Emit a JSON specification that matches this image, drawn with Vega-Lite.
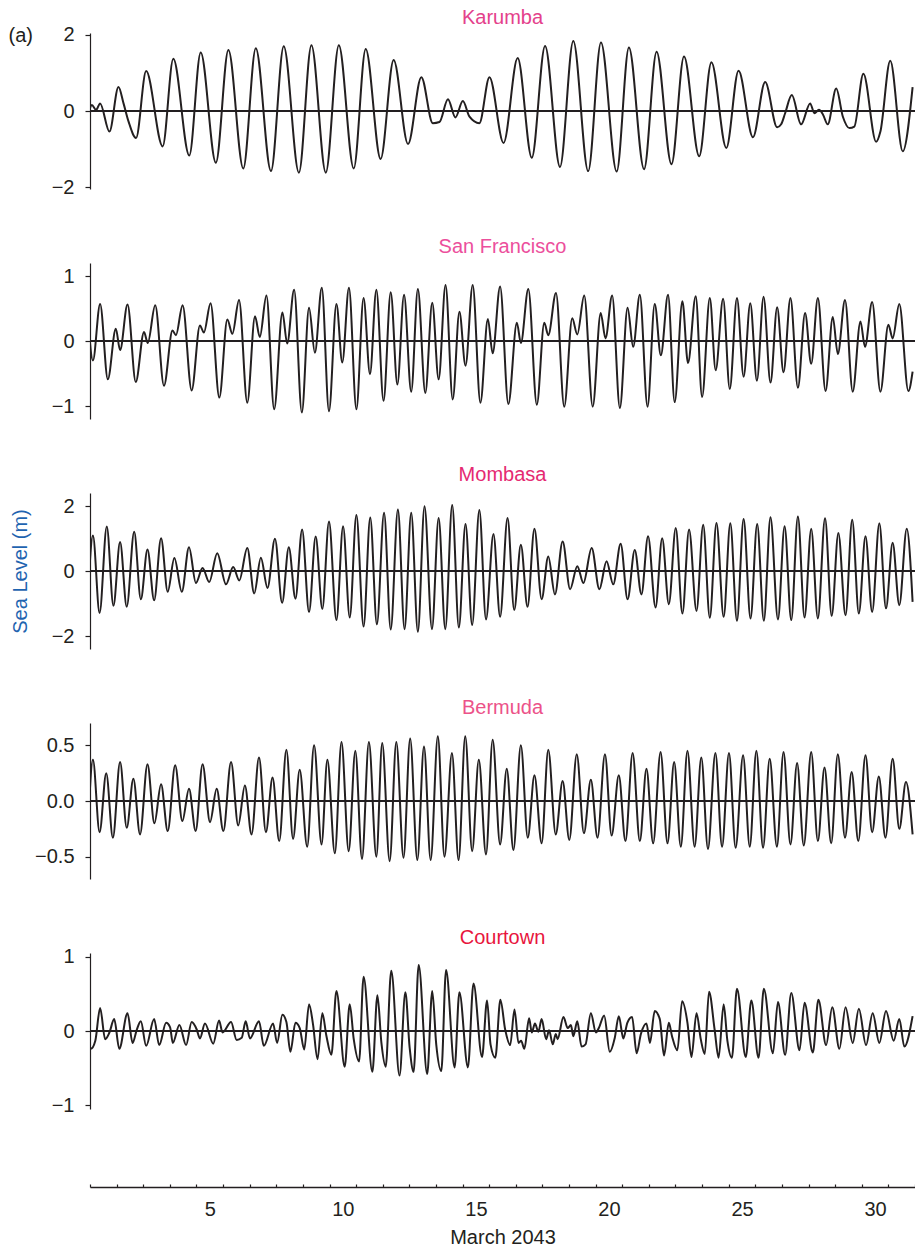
{
"$schema": "https://vega.github.io/schema/vega-lite/v6.json",
"padding": {"left": 8, "top": 7, "right": 0, "bottom": 0},
"bounds": "flush",
"spacing": 74,
"config": {
  "font": "Liberation Sans",
  "view": {"stroke": null},
  "axis": {"labelFont": "Liberation Sans", "labelFontSize": 20, "labelColor": "#231f20", "domainColor": "#231f20", "tickColor": "#231f20", "domainWidth": 1.2, "tickWidth": 1.2, "grid": false, "titleFont": "Liberation Sans", "titleFontSize": 20, "titleFontWeight": "normal", "titleColor": "#231f20", "labelOverlap": false},
  "title": {"font": "Liberation Sans", "fontSize": 20, "fontWeight": "normal", "anchor": "middle", "frame": "group", "baseline": "alphabetic"}
},
"datasets": {
"karumba": [
{"day":0.45,"level":-0.06},{"day":0.57,"level":0.16},{"day":0.73,"level":0.03},{"day":0.88,"level":0.20},{"day":1.23,"level":-0.54},{"day":1.57,"level":0.63},{"day":1.76,"level":0.20},{"day":1.95,"level":-0.28},{"day":2.23,"level":-0.71},{"day":2.61,"level":1.05},{"day":3.23,"level":-0.93},{"day":3.63,"level":1.37},{"day":4.23,"level":-1.17},{"day":4.66,"level":1.54},{"day":5.23,"level":-1.36},{"day":5.70,"level":1.60},{"day":6.26,"level":-1.51},{"day":6.73,"level":1.65},{"day":7.30,"level":-1.58},{"day":7.78,"level":1.70},{"day":8.35,"level":-1.62},{"day":8.82,"level":1.73},{"day":9.36,"level":-1.62},{"day":9.85,"level":1.73},{"day":10.41,"level":-1.51},{"day":10.86,"level":1.63},{"day":11.42,"level":-1.26},{"day":11.91,"level":1.34},{"day":12.45,"level":-0.87},{"day":12.95,"level":0.89},{"day":13.38,"level":-0.32},{"day":13.63,"level":-0.29},{"day":13.95,"level":0.31},{"day":14.23,"level":-0.17},{"day":14.51,"level":0.26},{"day":14.76,"level":-0.15},{"day":15.13,"level":-0.32},{"day":15.51,"level":0.89},{"day":16.04,"level":-0.84},{"day":16.57,"level":1.39},{"day":17.10,"level":-1.23},{"day":17.60,"level":1.71},{"day":18.16,"level":-1.47},{"day":18.66,"level":1.84},{"day":19.22,"level":-1.58},{"day":19.70,"level":1.80},{"day":20.29,"level":-1.59},{"day":20.75,"level":1.67},{"day":21.32,"level":-1.53},{"day":21.79,"level":1.56},{"day":22.35,"level":-1.40},{"day":22.82,"level":1.43},{"day":23.39,"level":-1.19},{"day":23.85,"level":1.28},{"day":24.41,"level":-0.97},{"day":24.87,"level":1.06},{"day":25.41,"level":-0.69},{"day":25.87,"level":0.76},{"day":26.32,"level":-0.43},{"day":26.47,"level":-0.35},{"day":26.62,"level":-0.06},{"day":26.87,"level":0.42},{"day":27.22,"level":-0.35},{"day":27.56,"level":0.20},{"day":27.72,"level":-0.06},{"day":27.89,"level":0.03},{"day":28.04,"level":-0.09},{"day":28.22,"level":-0.35},{"day":28.54,"level":0.59},{"day":28.79,"level":-0.15},{"day":29.04,"level":-0.45},{"day":29.22,"level":-0.41},{"day":29.56,"level":0.98},{"day":30.04,"level":-0.81},{"day":30.20,"level":-0.54},{"day":30.57,"level":1.32},{"day":31.04,"level":-1.06},{"day":31.41,"level":0.63}
],
"sanfrancisco": [
{"day":0.45,"level":0.21},{"day":0.61,"level":-0.30},{"day":0.88,"level":0.57},{"day":1.17,"level":-0.59},{"day":1.47,"level":0.19},{"day":1.63,"level":-0.14},{"day":1.91,"level":0.56},{"day":2.22,"level":-0.63},{"day":2.53,"level":0.14},{"day":2.67,"level":-0.03},{"day":2.95,"level":0.55},{"day":3.28,"level":-0.69},{"day":3.60,"level":0.16},{"day":3.73,"level":0.09},{"day":3.98,"level":0.55},{"day":4.32,"level":-0.76},{"day":4.63,"level":0.24},{"day":4.78,"level":0.13},{"day":5.03,"level":0.58},{"day":5.36,"level":-0.87},{"day":5.66,"level":0.33},{"day":5.85,"level":0.11},{"day":6.10,"level":0.63},{"day":6.41,"level":-0.95},{"day":6.70,"level":0.38},{"day":6.88,"level":0.06},{"day":7.13,"level":0.70},{"day":7.42,"level":-1.05},{"day":7.73,"level":0.44},{"day":7.91,"level":-0.04},{"day":8.17,"level":0.79},{"day":8.46,"level":-1.10},{"day":8.73,"level":0.51},{"day":8.95,"level":-0.18},{"day":9.21,"level":0.82},{"day":9.48,"level":-1.08},{"day":9.76,"level":0.57},{"day":9.98,"level":-0.33},{"day":10.23,"level":0.82},{"day":10.51,"level":-1.05},{"day":10.78,"level":0.66},{"day":11.02,"level":-0.51},{"day":11.26,"level":0.79},{"day":11.53,"level":-0.92},{"day":11.80,"level":0.75},{"day":12.05,"level":-0.67},{"day":12.30,"level":0.71},{"day":12.57,"level":-0.78},{"day":12.82,"level":0.80},{"day":13.10,"level":-0.80},{"day":13.36,"level":0.59},{"day":13.60,"level":-0.59},{"day":13.86,"level":0.86},{"day":14.13,"level":-0.90},{"day":14.38,"level":0.45},{"day":14.61,"level":-0.38},{"day":14.88,"level":0.86},{"day":15.17,"level":-0.95},{"day":15.45,"level":0.34},{"day":15.63,"level":-0.19},{"day":15.91,"level":0.84},{"day":16.22,"level":-0.97},{"day":16.54,"level":0.28},{"day":16.69,"level":-0.03},{"day":16.97,"level":0.80},{"day":17.29,"level":-0.98},{"day":17.57,"level":0.28},{"day":17.72,"level":0.09},{"day":18.01,"level":0.74},{"day":18.32,"level":-1.01},{"day":18.62,"level":0.35},{"day":18.81,"level":0.10},{"day":19.07,"level":0.70},{"day":19.39,"level":-1.01},{"day":19.69,"level":0.43},{"day":19.87,"level":0.04},{"day":20.12,"level":0.70},{"day":20.41,"level":-1.03},{"day":20.70,"level":0.51},{"day":20.91,"level":-0.09},{"day":21.16,"level":0.71},{"day":21.45,"level":-1.01},{"day":21.72,"level":0.57},{"day":21.95,"level":-0.22},{"day":22.22,"level":0.71},{"day":22.47,"level":-0.94},{"day":22.76,"level":0.61},{"day":22.97,"level":-0.34},{"day":23.26,"level":0.69},{"day":23.50,"level":-0.86},{"day":23.79,"level":0.66},{"day":24.01,"level":-0.45},{"day":24.29,"level":0.65},{"day":24.54,"level":-0.74},{"day":24.81,"level":0.66},{"day":25.06,"level":-0.55},{"day":25.31,"level":0.58},{"day":25.56,"level":-0.61},{"day":25.81,"level":0.68},{"day":26.07,"level":-0.64},{"day":26.32,"level":0.52},{"day":26.56,"level":-0.48},{"day":26.82,"level":0.66},{"day":27.10,"level":-0.72},{"day":27.37,"level":0.43},{"day":27.60,"level":-0.35},{"day":27.85,"level":0.66},{"day":28.14,"level":-0.77},{"day":28.41,"level":0.37},{"day":28.60,"level":-0.20},{"day":28.87,"level":0.63},{"day":29.16,"level":-0.78},{"day":29.45,"level":0.30},{"day":29.62,"level":-0.09},{"day":29.89,"level":0.60},{"day":30.20,"level":-0.78},{"day":30.50,"level":0.25},{"day":30.66,"level":0.04},{"day":30.91,"level":0.57},{"day":31.25,"level":-0.77},{"day":31.41,"level":-0.47}
],
"mombasa": [
{"day":0.45,"level":-0.34},{"day":0.61,"level":1.09},{"day":0.86,"level":-1.29},{"day":1.13,"level":1.37},{"day":1.38,"level":-1.07},{"day":1.63,"level":0.89},{"day":1.88,"level":-1.10},{"day":2.16,"level":1.21},{"day":2.41,"level":-0.87},{"day":2.66,"level":0.66},{"day":2.91,"level":-0.90},{"day":3.17,"level":1.01},{"day":3.42,"level":-0.64},{"day":3.67,"level":0.40},{"day":3.95,"level":-0.64},{"day":4.22,"level":0.73},{"day":4.48,"level":-0.37},{"day":4.73,"level":0.09},{"day":4.98,"level":-0.34},{"day":5.28,"level":0.55},{"day":5.61,"level":-0.41},{"day":5.88,"level":0.12},{"day":6.11,"level":-0.29},{"day":6.41,"level":0.71},{"day":6.67,"level":-0.69},{"day":6.92,"level":0.41},{"day":7.17,"level":-0.52},{"day":7.45,"level":0.99},{"day":7.72,"level":-0.98},{"day":7.97,"level":0.73},{"day":8.22,"level":-0.85},{"day":8.47,"level":1.28},{"day":8.73,"level":-1.26},{"day":8.98,"level":1.06},{"day":9.23,"level":-1.17},{"day":9.48,"level":1.52},{"day":9.76,"level":-1.51},{"day":10.01,"level":1.38},{"day":10.26,"level":-1.43},{"day":10.51,"level":1.72},{"day":10.78,"level":-1.71},{"day":11.03,"level":1.65},{"day":11.28,"level":-1.64},{"day":11.55,"level":1.79},{"day":11.80,"level":-1.80},{"day":12.07,"level":1.89},{"day":12.32,"level":-1.79},{"day":12.57,"level":1.79},{"day":12.82,"level":-1.87},{"day":13.07,"level":1.99},{"day":13.35,"level":-1.79},{"day":13.60,"level":1.63},{"day":13.85,"level":-1.79},{"day":14.11,"level":2.03},{"day":14.36,"level":-1.74},{"day":14.61,"level":1.45},{"day":14.86,"level":-1.66},{"day":15.13,"level":1.88},{"day":15.38,"level":-1.49},{"day":15.66,"level":1.14},{"day":15.91,"level":-1.41},{"day":16.19,"level":1.63},{"day":16.44,"level":-1.20},{"day":16.69,"level":0.81},{"day":16.94,"level":-1.10},{"day":17.20,"level":1.30},{"day":17.47,"level":-0.87},{"day":17.72,"level":0.45},{"day":17.97,"level":-0.72},{"day":18.26,"level":0.91},{"day":18.54,"level":-0.56},{"day":18.81,"level":0.15},{"day":19.04,"level":-0.37},{"day":19.35,"level":0.71},{"day":19.64,"level":-0.56},{"day":19.91,"level":0.30},{"day":20.16,"level":-0.41},{"day":20.44,"level":0.84},{"day":20.70,"level":-0.87},{"day":20.97,"level":0.65},{"day":21.22,"level":-0.72},{"day":21.47,"level":1.07},{"day":21.75,"level":-1.12},{"day":22.00,"level":1.01},{"day":22.25,"level":-1.02},{"day":22.51,"level":1.32},{"day":22.76,"level":-1.31},{"day":23.01,"level":1.28},{"day":23.29,"level":-1.23},{"day":23.54,"level":1.42},{"day":23.79,"level":-1.44},{"day":24.04,"level":1.48},{"day":24.31,"level":-1.41},{"day":24.56,"level":1.47},{"day":24.81,"level":-1.53},{"day":25.06,"level":1.60},{"day":25.32,"level":-1.46},{"day":25.57,"level":1.45},{"day":25.82,"level":-1.53},{"day":26.07,"level":1.65},{"day":26.35,"level":-1.49},{"day":26.60,"level":1.38},{"day":26.85,"level":-1.51},{"day":27.10,"level":1.68},{"day":27.35,"level":-1.43},{"day":27.60,"level":1.30},{"day":27.85,"level":-1.46},{"day":28.12,"level":1.62},{"day":28.37,"level":-1.38},{"day":28.62,"level":1.17},{"day":28.89,"level":-1.36},{"day":29.14,"level":1.58},{"day":29.39,"level":-1.31},{"day":29.64,"level":1.07},{"day":29.89,"level":-1.26},{"day":30.16,"level":1.47},{"day":30.41,"level":-1.15},{"day":30.66,"level":0.87},{"day":30.91,"level":-1.05},{"day":31.19,"level":1.30},{"day":31.41,"level":-0.95}
],
"bermuda": [
{"day":0.45,"level":-0.10},{"day":0.61,"level":0.37},{"day":0.86,"level":-0.28},{"day":1.11,"level":0.25},{"day":1.36,"level":-0.33},{"day":1.63,"level":0.35},{"day":1.88,"level":-0.24},{"day":2.13,"level":0.20},{"day":2.38,"level":-0.30},{"day":2.66,"level":0.33},{"day":2.92,"level":-0.20},{"day":3.17,"level":0.15},{"day":3.42,"level":-0.27},{"day":3.70,"level":0.32},{"day":3.97,"level":-0.18},{"day":4.22,"level":0.11},{"day":4.47,"level":-0.27},{"day":4.73,"level":0.33},{"day":5.01,"level":-0.19},{"day":5.26,"level":0.11},{"day":5.51,"level":-0.27},{"day":5.80,"level":0.35},{"day":6.07,"level":-0.22},{"day":6.32,"level":0.14},{"day":6.57,"level":-0.30},{"day":6.85,"level":0.39},{"day":7.11,"level":-0.28},{"day":7.36,"level":0.21},{"day":7.61,"level":-0.36},{"day":7.88,"level":0.46},{"day":8.13,"level":-0.34},{"day":8.38,"level":0.28},{"day":8.66,"level":-0.41},{"day":8.92,"level":0.50},{"day":9.20,"level":-0.39},{"day":9.42,"level":0.37},{"day":9.70,"level":-0.47},{"day":9.95,"level":0.53},{"day":10.22,"level":-0.45},{"day":10.47,"level":0.45},{"day":10.72,"level":-0.52},{"day":10.98,"level":0.53},{"day":11.26,"level":-0.50},{"day":11.48,"level":0.52},{"day":11.76,"level":-0.54},{"day":12.01,"level":0.53},{"day":12.28,"level":-0.51},{"day":12.53,"level":0.56},{"day":12.80,"level":-0.53},{"day":13.05,"level":0.49},{"day":13.30,"level":-0.53},{"day":13.57,"level":0.58},{"day":13.82,"level":-0.50},{"day":14.10,"level":0.43},{"day":14.35,"level":-0.53},{"day":14.60,"level":0.58},{"day":14.86,"level":-0.45},{"day":15.11,"level":0.37},{"day":15.38,"level":-0.48},{"day":15.63,"level":0.55},{"day":15.91,"level":-0.39},{"day":16.16,"level":0.29},{"day":16.41,"level":-0.44},{"day":16.69,"level":0.50},{"day":16.95,"level":-0.33},{"day":17.20,"level":0.23},{"day":17.47,"level":-0.38},{"day":17.72,"level":0.46},{"day":18.00,"level":-0.30},{"day":18.26,"level":0.18},{"day":18.51,"level":-0.35},{"day":18.79,"level":0.42},{"day":19.06,"level":-0.29},{"day":19.32,"level":0.19},{"day":19.57,"level":-0.33},{"day":19.85,"level":0.42},{"day":20.10,"level":-0.31},{"day":20.37,"level":0.23},{"day":20.62,"level":-0.36},{"day":20.89,"level":0.43},{"day":21.16,"level":-0.36},{"day":21.41,"level":0.29},{"day":21.66,"level":-0.38},{"day":21.94,"level":0.44},{"day":22.20,"level":-0.38},{"day":22.45,"level":0.35},{"day":22.70,"level":-0.41},{"day":22.95,"level":0.45},{"day":23.22,"level":-0.41},{"day":23.47,"level":0.39},{"day":23.72,"level":-0.43},{"day":24.00,"level":0.43},{"day":24.25,"level":-0.41},{"day":24.51,"level":0.43},{"day":24.76,"level":-0.42},{"day":25.04,"level":0.41},{"day":25.29,"level":-0.41},{"day":25.54,"level":0.45},{"day":25.79,"level":-0.42},{"day":26.04,"level":0.38},{"day":26.31,"level":-0.41},{"day":26.56,"level":0.44},{"day":26.82,"level":-0.39},{"day":27.07,"level":0.34},{"day":27.32,"level":-0.40},{"day":27.60,"level":0.44},{"day":27.85,"level":-0.36},{"day":28.10,"level":0.30},{"day":28.35,"level":-0.38},{"day":28.60,"level":0.42},{"day":28.87,"level":-0.33},{"day":29.12,"level":0.26},{"day":29.37,"level":-0.36},{"day":29.64,"level":0.41},{"day":29.89,"level":-0.28},{"day":30.14,"level":0.22},{"day":30.39,"level":-0.33},{"day":30.66,"level":0.38},{"day":30.91,"level":-0.25},{"day":31.16,"level":0.17},{"day":31.41,"level":-0.30}
],
"courtown": [
{"day":0.45,"level":-0.09},{"day":0.53,"level":-0.24},{"day":0.70,"level":-0.13},{"day":0.88,"level":0.31},{"day":1.07,"level":-0.11},{"day":1.23,"level":-0.02},{"day":1.41,"level":0.16},{"day":1.60,"level":-0.24},{"day":1.91,"level":0.24},{"day":2.10,"level":-0.16},{"day":2.26,"level":0.02},{"day":2.41,"level":0.13},{"day":2.61,"level":-0.20},{"day":2.91,"level":0.16},{"day":3.10,"level":-0.19},{"day":3.36,"level":0.11},{"day":3.51,"level":0.05},{"day":3.61,"level":-0.16},{"day":3.86,"level":0.08},{"day":4.11,"level":-0.19},{"day":4.32,"level":0.12},{"day":4.51,"level":0.02},{"day":4.63,"level":-0.10},{"day":4.82,"level":0.10},{"day":5.13,"level":-0.17},{"day":5.35,"level":0.14},{"day":5.48,"level":-0.02},{"day":5.80,"level":0.12},{"day":6.01,"level":-0.12},{"day":6.20,"level":-0.09},{"day":6.35,"level":0.13},{"day":6.51,"level":-0.10},{"day":6.85,"level":0.13},{"day":7.03,"level":-0.20},{"day":7.38,"level":0.10},{"day":7.53,"level":-0.16},{"day":7.73,"level":0.22},{"day":7.88,"level":0.12},{"day":8.03,"level":-0.28},{"day":8.22,"level":0.11},{"day":8.38,"level":0.04},{"day":8.55,"level":-0.25},{"day":8.73,"level":0.36},{"day":8.88,"level":0.09},{"day":9.05,"level":-0.38},{"day":9.23,"level":0.24},{"day":9.38,"level":-0.06},{"day":9.57,"level":-0.32},{"day":9.76,"level":0.54},{"day":10.07,"level":-0.48},{"day":10.26,"level":0.36},{"day":10.41,"level":-0.11},{"day":10.61,"level":-0.41},{"day":10.78,"level":0.73},{"day":11.11,"level":-0.55},{"day":11.30,"level":0.48},{"day":11.45,"level":-0.16},{"day":11.61,"level":-0.48},{"day":11.82,"level":0.81},{"day":12.13,"level":-0.60},{"day":12.35,"level":0.52},{"day":12.51,"level":-0.22},{"day":12.66,"level":-0.55},{"day":12.85,"level":0.89},{"day":13.17,"level":-0.58},{"day":13.36,"level":0.54},{"day":13.51,"level":-0.18},{"day":13.70,"level":-0.54},{"day":13.88,"level":0.82},{"day":14.20,"level":-0.49},{"day":14.38,"level":0.52},{"day":14.70,"level":-0.49},{"day":14.91,"level":0.64},{"day":15.23,"level":-0.35},{"day":15.42,"level":0.41},{"day":15.55,"level":-0.18},{"day":15.73,"level":-0.36},{"day":15.92,"level":0.42},{"day":16.10,"level":0.02},{"day":16.29,"level":-0.19},{"day":16.45,"level":0.29},{"day":16.60,"level":-0.16},{"day":16.70,"level":-0.13},{"day":16.82,"level":-0.24},{"day":17.00,"level":0.17},{"day":17.10,"level":-0.02},{"day":17.22,"level":0.10},{"day":17.35,"level":-0.01},{"day":17.47,"level":0.16},{"day":17.64,"level":-0.11},{"day":17.75,"level":0.01},{"day":17.89,"level":-0.18},{"day":18.00,"level":-0.04},{"day":18.07,"level":-0.11},{"day":18.29,"level":0.19},{"day":18.45,"level":0.04},{"day":18.57,"level":0.08},{"day":18.66,"level":-0.07},{"day":18.81,"level":0.13},{"day":18.97,"level":-0.21},{"day":19.12,"level":-0.18},{"day":19.32,"level":0.24},{"day":19.51,"level":-0.02},{"day":19.62,"level":0.04},{"day":19.82,"level":0.21},{"day":20.03,"level":-0.28},{"day":20.22,"level":-0.09},{"day":20.37,"level":0.20},{"day":20.54,"level":-0.10},{"day":20.69,"level":0.11},{"day":20.87,"level":0.19},{"day":21.04,"level":-0.30},{"day":21.20,"level":-0.04},{"day":21.41,"level":0.10},{"day":21.54,"level":-0.16},{"day":21.72,"level":0.27},{"day":21.91,"level":0.16},{"day":22.07,"level":-0.33},{"day":22.25,"level":0.11},{"day":22.37,"level":-0.07},{"day":22.57,"level":-0.26},{"day":22.75,"level":0.40},{"day":22.95,"level":0.11},{"day":23.10,"level":-0.35},{"day":23.29,"level":0.24},{"day":23.45,"level":-0.11},{"day":23.60,"level":-0.31},{"day":23.76,"level":0.53},{"day":23.97,"level":0.02},{"day":24.12,"level":-0.36},{"day":24.31,"level":0.36},{"day":24.45,"level":-0.13},{"day":24.62,"level":-0.36},{"day":24.81,"level":0.57},{"day":25.14,"level":-0.35},{"day":25.35,"level":0.41},{"day":25.62,"level":-0.36},{"day":25.82,"level":0.57},{"day":26.16,"level":-0.30},{"day":26.35,"level":0.39},{"day":26.62,"level":-0.32},{"day":26.85,"level":0.51},{"day":27.16,"level":-0.26},{"day":27.35,"level":0.38},{"day":27.66,"level":-0.29},{"day":27.87,"level":0.42},{"day":28.16,"level":-0.19},{"day":28.39,"level":0.32},{"day":28.66,"level":-0.24},{"day":28.89,"level":0.32},{"day":29.16,"level":-0.16},{"day":29.39,"level":0.30},{"day":29.66,"level":-0.19},{"day":29.91,"level":0.24},{"day":30.16,"level":-0.16},{"day":30.41,"level":0.27},{"day":30.70,"level":-0.13},{"day":30.91,"level":0.16},{"day":31.10,"level":-0.21},{"day":31.41,"level":0.20}
]
},
"vconcat": [
{
  "title": {"text": "Karumba", "color": "#e4418b", "offset": -3},
  "width": 825, "height": 156,
  "data": {"name": "karumba"},
  "layer": [
    {"mark": {"type": "line", "interpolate": "monotone", "color": "#231f20", "strokeWidth": 2, "clip": true},
     "encoding": {
       "x": {"field": "day", "type": "quantitative", "scale": {"domain": [0.5, 31.5], "nice": false, "zero": false}, "axis": null},
       "y": {"field": "level", "type": "quantitative", "scale": {"domain": [-2.05, 2.05], "nice": false, "zero": false},
             "axis": {"values": [-2, -1, 0, 1, 2], "format": "d", "tickSize": 5, "labelPadding": 11, "labelOverlap": false, "title": "(a)", "titleAngle": 0, "titleX": -82, "titleY": 2, "titleAlign": "left", "titleBaseline": "middle"}}
     }},
    {"mark": {"type": "rule", "color": "#231f20", "strokeWidth": 1.5}, "encoding": {"y": {"datum": 0}}}
  ]
},
{
  "title": {"text": "San Francisco", "color": "#ec4f9c", "offset": 6},
  "width": 825, "height": 156,
  "data": {"name": "sanfrancisco"},
  "layer": [
    {"mark": {"type": "line", "interpolate": "monotone", "color": "#231f20", "strokeWidth": 2, "clip": true},
     "encoding": {
       "x": {"field": "day", "type": "quantitative", "scale": {"domain": [0.5, 31.5], "nice": false, "zero": false}, "axis": null},
       "y": {"field": "level", "type": "quantitative", "scale": {"domain": [-1.2, 1.2], "nice": false, "zero": false},
             "axis": {"values": [-1, 0, 1], "format": "d", "tickSize": 5, "labelPadding": 11, "labelOverlap": false, "title": null}}
     }},
    {"mark": {"type": "rule", "color": "#231f20", "strokeWidth": 1.5}, "encoding": {"y": {"datum": 0}}}
  ]
},
{
  "title": {"text": "Mombasa", "color": "#e52a72", "offset": 8},
  "width": 825, "height": 156,
  "data": {"name": "mombasa"},
  "layer": [
    {"mark": {"type": "line", "interpolate": "monotone", "color": "#231f20", "strokeWidth": 2, "clip": true},
     "encoding": {
       "x": {"field": "day", "type": "quantitative", "scale": {"domain": [0.5, 31.5], "nice": false, "zero": false}, "axis": null},
       "y": {"field": "level", "type": "quantitative", "scale": {"domain": [-2.4, 2.4], "nice": false, "zero": false},
             "axis": {"values": [-2, -1, 0, 1, 2], "format": "d", "tickSize": 5, "labelPadding": 11, "labelOverlap": false, "title": "Sea Level (m)", "titleColor": "#1f64b0", "titleX": -70, "titleY": 78, "titleAngle": 270, "titleAlign": "center", "titleBaseline": "middle"}}
     }},
    {"mark": {"type": "rule", "color": "#231f20", "strokeWidth": 1.5}, "encoding": {"y": {"datum": 0}}}
  ]
},
{
  "title": {"text": "Bermuda", "color": "#ec5289", "offset": 5},
  "width": 825, "height": 156,
  "data": {"name": "bermuda"},
  "layer": [
    {"mark": {"type": "line", "interpolate": "monotone", "color": "#231f20", "strokeWidth": 2, "clip": true},
     "encoding": {
       "x": {"field": "day", "type": "quantitative", "scale": {"domain": [0.5, 31.5], "nice": false, "zero": false}, "axis": null},
       "y": {"field": "level", "type": "quantitative", "scale": {"domain": [-0.7, 0.7], "nice": false, "zero": false},
             "axis": {"values": [-0.5, 0, 0.5], "format": ".1f", "tickSize": 5, "labelPadding": 11, "labelOverlap": false, "title": null}}
     }},
    {"mark": {"type": "rule", "color": "#231f20", "strokeWidth": 1.5}, "encoding": {"y": {"datum": 0}}}
  ]
},
{
  "title": {"text": "Courtown", "color": "#e8153d", "offset": -1},
  "width": 825, "height": 156,
  "data": {"name": "courtown"},
  "layer": [
    {"mark": {"type": "line", "interpolate": "monotone", "color": "#231f20", "strokeWidth": 2, "clip": true},
     "encoding": {
       "x": {"field": "day", "type": "quantitative", "scale": {"domain": [0.5, 31.5], "nice": false, "zero": false},
             "axis": {"orient": "bottom", "offset": 78, "values": [0.5,1.5,2.5,3.5,4.5,5.5,6.5,7.5,8.5,9.5,10.5,11.5,12.5,13.5,14.5,15.5,16.5,17.5,18.5,19.5,20.5,21.5,22.5,23.5,24.5,25.5,26.5,27.5,28.5,29.5,30.5,31.5],
                      "labelExpr": "(datum.value + 0.5) % 5 == 0 ? format(datum.value + 0.5, 'd') : ''",
                      "labelOffset": 13.3, "tickSize": -3, "labelPadding": 15, "labelOverlap": false, "labelBound": false, "labelFlush": false,
                      "domainWidth": 1.5, "title": "March 2043", "titlePadding": 8}},
       "y": {"field": "level", "type": "quantitative", "scale": {"domain": [-1.05, 1.05], "nice": false, "zero": false},
             "axis": {"values": [-1, 0, 1], "labelExpr": "datum.value == 0 ? '0' : (datum.value > 0 ? '1' : '\u22121')", "tickSize": 5, "labelPadding": 11, "labelOverlap": false, "labelFlush": false, "labelBound": false, "title": null}}
     }},
    {"mark": {"type": "rule", "color": "#231f20", "strokeWidth": 1.5}, "encoding": {"y": {"datum": 0}}}
  ]
}
]
}
